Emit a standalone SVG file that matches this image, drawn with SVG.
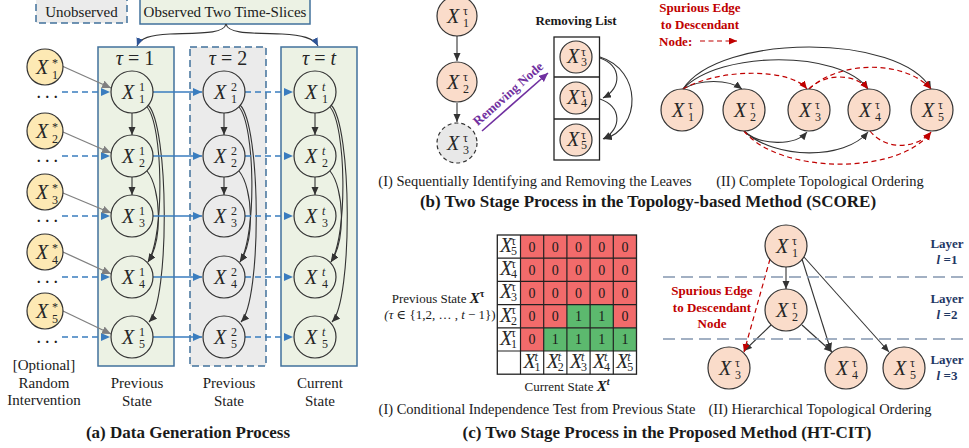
<svg xmlns="http://www.w3.org/2000/svg" width="969" height="448" viewBox="0 0 969 448">
<defs>
<style>
.bg{fill:#ecf2e4;stroke:#41719c;stroke-width:1.5}
.bd{fill:#ebebeb;stroke:#41719c;stroke-width:1.5;stroke-dasharray:7 4}
.nA{fill:#ecf2e4;stroke:#333;stroke-width:1.2}
.nB{fill:#ebebeb;stroke:#333;stroke-width:1.2}
.np{fill:#fadcca;stroke:#333;stroke-width:1.2}
.ny{fill:#fde9b4;stroke:#333;stroke-width:1.2}
.nx{fill:#e8e8e8;stroke:#333;stroke-width:1.2;stroke-dasharray:4 3}
.mx{font-family:"Liberation Serif","DejaVu Serif",serif;font-style:italic;font-size:20px;fill:#262626}
.ms{font-style:normal;font-size:12px}
.mi{font-style:italic;font-size:12px}
.t{font-family:"Liberation Serif","DejaVu Serif",serif;fill:#1a1a1a}
.cap{font-weight:bold;font-size:17px}
.e{fill:none;stroke:#333;stroke-width:1.1}
.eb{fill:none;stroke:#3a7dbf;stroke-width:1.4}
.ebd{fill:none;stroke:#3a7dbf;stroke-width:1.4;stroke-dasharray:6 4}
.eg{fill:none;stroke:#808080;stroke-width:1.3}
.er{fill:none;stroke:#c00000;stroke-width:1.2;stroke-dasharray:5 3.5}
.red{fill:#c00000;font-weight:bold;font-size:13px}
.lay{fill:#1f3864;font-weight:bold;font-size:13px}
.cr{fill:#f26b6b}
.cg{fill:#5cb96e}
.z{font-size:14px;text-anchor:middle}
</style>
<marker id="mk" markerUnits="userSpaceOnUse" markerWidth="9" markerHeight="8" refX="8" refY="3.5" orient="auto"><path d="M0,0 L8,3.5 L0,7 z" fill="#333"/></marker>
<marker id="mb" markerUnits="userSpaceOnUse" markerWidth="10" markerHeight="9" refX="9" refY="4" orient="auto"><path d="M0,0 L9,4 L0,8 z" fill="#3a7dbf"/></marker>
<marker id="mg" markerUnits="userSpaceOnUse" markerWidth="10" markerHeight="9" refX="9" refY="4" orient="auto"><path d="M0,0 L9,4 L0,8 z" fill="#808080"/></marker>
<marker id="mr" markerUnits="userSpaceOnUse" markerWidth="9" markerHeight="8" refX="8" refY="3.5" orient="auto"><path d="M0,0 L8,3.5 L0,7 z" fill="#c00000"/></marker>
<marker id="mp" markerUnits="userSpaceOnUse" markerWidth="10" markerHeight="9" refX="9" refY="4" orient="auto"><path d="M0,0 L9,4 L0,8 z" fill="#7030a0"/></marker>
<marker id="mn" markerUnits="userSpaceOnUse" markerWidth="9" markerHeight="8" refX="8" refY="3.5" orient="auto"><path d="M0,0 L8,3.5 L0,7 z" fill="#2f5597"/></marker>
</defs>
<rect width="969" height="448" fill="#fff"/>

<g id="legend-a">
<rect x="36" y="-3" width="91" height="26" class="bd" fill="#eeeeee"/>
<text class="t" x="81.5" y="17" font-size="15" text-anchor="middle">Unobserved</text>
<rect x="140" y="-3" width="170" height="27" class="bg"/>
<text class="t" x="225" y="17" font-size="15" text-anchor="middle">Observed Two Time-Slices</text>
</g>

<g id="col1"><rect x="98" y="47" width="76" height="319" class="bg"/>
<text class="mx" x="135" y="65" text-anchor="middle" font-size="21">τ<tspan font-style="normal"> = 1</tspan></text></g>
<g id="col2"><rect x="190" y="47" width="76" height="319" class="bd"/>
<text class="mx" x="228" y="65" text-anchor="middle" font-size="21">τ<tspan font-style="normal"> = 2</tspan></text></g>
<g id="col3"><rect x="281" y="47" width="76" height="319" class="bg"/>
<text class="mx" x="319" y="65" text-anchor="middle" font-size="21">τ<tspan font-style="normal"> = </tspan>t</text></g>

<g id="connectors">
<path class="e" stroke="#2f5597" stroke-width="1.3" d="M226,24 C224,34 200,33 170,34 C150,35 140,38 137,46" marker-end="url(#mn)"/>
<path class="e" stroke="#2f5597" stroke-width="1.3" d="M226,24 C228,34 252,33 282,34 C302,35 314,38 318,46" marker-end="url(#mn)"/>

<g id="col-edges">
<path class="e" d="M132,113 L132,135" marker-end="url(#mk)"/>
<path class="e" d="M132,177 L132,195" marker-end="url(#mk)"/>
<path class="e" d="M147,107 C163,125 165,235 148,262" marker-end="url(#mk)"/>
<path class="e" d="M148,105 C169,125 170,300 149,322" marker-end="url(#mk)"/>
<path class="e" d="M147,171 C161,188 163,240 148,262" marker-end="url(#mk)"/>

<path class="e" d="M224,113 L224,135" marker-end="url(#mk)"/>
<path class="e" d="M224,177 L224,195" marker-end="url(#mk)"/>
<path class="e" d="M239,107 C255,125 257,235 240,262" marker-end="url(#mk)"/>
<path class="e" d="M240,105 C261,125 262,300 241,322" marker-end="url(#mk)"/>
<path class="e" d="M239,171 C253,188 255,240 240,262" marker-end="url(#mk)"/>

<path class="e" d="M315,113 L315,135" marker-end="url(#mk)"/>
<path class="e" d="M315,177 L315,195" marker-end="url(#mk)"/>
<path class="e" d="M330,107 C346,125 348,235 331,262" marker-end="url(#mk)"/>
<path class="e" d="M331,105 C352,125 353,300 332,322" marker-end="url(#mk)"/>
<path class="e" d="M330,171 C344,188 346,240 331,262" marker-end="url(#mk)"/>
</g>

<g id="time-edges">
<path class="ebd" d="M62,92 L110,92" marker-end="url(#mb)"/>
<path class="ebd" d="M62,156 L110,156" marker-end="url(#mb)"/>
<path class="ebd" d="M62,216 L110,216" marker-end="url(#mb)"/>
<path class="ebd" d="M62,277 L110,277" marker-end="url(#mb)"/>
<path class="ebd" d="M62,337 L110,337" marker-end="url(#mb)"/>
<path class="eb" d="M153,92 L202,92" marker-end="url(#mb)"/>
<path class="eb" d="M153,156 L202,156" marker-end="url(#mb)"/>
<path class="eb" d="M153,216 L202,216" marker-end="url(#mb)"/>
<path class="eb" d="M153,277 L202,277" marker-end="url(#mb)"/>
<path class="eb" d="M153,337 L202,337" marker-end="url(#mb)"/>
<path class="ebd" d="M245,92 L293,92" marker-end="url(#mb)"/>
<path class="ebd" d="M245,156 L293,156" marker-end="url(#mb)"/>
<path class="ebd" d="M245,216 L293,216" marker-end="url(#mb)"/>
<path class="ebd" d="M245,277 L293,277" marker-end="url(#mb)"/>
<path class="ebd" d="M245,337 L293,337" marker-end="url(#mb)"/>
<path class="eg" d="M62,66 L111,88" marker-end="url(#mg)"/>
<path class="eg" d="M63,132 L111,153" marker-end="url(#mg)"/>
<path class="eg" d="M63,193 L111,213" marker-end="url(#mg)"/>
<path class="eg" d="M63,252 L111,274" marker-end="url(#mg)"/>
<path class="eg" d="M63,311 L111,334" marker-end="url(#mg)"/>
</g>

<path class="e" d="M457,36 L457,61" marker-end="url(#mk)"/>
<path class="e" d="M457,103 L457,122" marker-end="url(#mk)"/>
<path fill="none" stroke="#7030a0" stroke-width="1.6" d="M482,131 L548,73" marker-end="url(#mp)"/>
<path class="e" d="M600,58 C622,66 622,88 603,98" marker-end="url(#mk)"/>
<path class="e" d="M600,99 C622,107 622,129 603,139" marker-end="url(#mk)"/>
<path class="e" d="M600,57 C642,70 642,128 604,139" marker-end="url(#mk)"/>

<path class="e" d="M683,89 C700,79 728,79 742,89" marker-end="url(#mk)"/>
<path class="e" d="M683,89 C720,50 840,50 868,89" marker-end="url(#mk)"/>
<path class="e" d="M683,89 C720,33 900,33 931,89" marker-end="url(#mk)"/>
<path class="er" d="M683,89 C720,68 790,68 807,89" marker-end="url(#mr)"/>
<path class="er" d="M809,89 C825,73 855,73 868,89" marker-end="url(#mr)"/>
<path class="er" d="M809,89 C840,60 905,60 931,89" marker-end="url(#mr)"/>
<path class="e" d="M744,131 C760,146 795,146 807,132" marker-end="url(#mk)"/>
<path class="e" d="M744,131 C775,160 845,160 868,132" marker-end="url(#mk)"/>
<path class="er" d="M744,131 C780,175 900,175 931,132" marker-end="url(#mr)"/>
<path class="er" d="M870,131 C885,150 915,150 931,132" marker-end="url(#mr)"/>
<path class="er" d="M700,41 L737,41" marker-end="url(#mr)"/>

<path class="e" d="M786,267 L786,289" marker-end="url(#mk)"/>
<path class="e" d="M802,259 L831,351" marker-end="url(#mk)"/>
<path class="e" d="M804,257 L889,352" marker-end="url(#mk)"/>
<path class="e" d="M771,325 L744,351" marker-end="url(#mk)"/>
<path class="e" d="M802,325 L832,352" marker-end="url(#mk)"/>
<path class="er" d="M770,259 L744,352" marker-end="url(#mr)"/>
</g>

<g id="xs1"><circle cx="45" cy="67" r="18" class="ny"/><text class="mx" x="36" y="74" font-size="19">X<tspan class="ms" x="52" y="67">*</tspan><tspan class="ms" x="52" y="79">1</tspan></text></g>
<g id="xs2"><circle cx="45" cy="131" r="18" class="ny"/><text class="mx" x="36" y="138" font-size="19">X<tspan class="ms" x="52" y="131">*</tspan><tspan class="ms" x="52" y="143">2</tspan></text></g>
<g id="xs3"><circle cx="45" cy="192" r="18" class="ny"/><text class="mx" x="36" y="199" font-size="19">X<tspan class="ms" x="52" y="192">*</tspan><tspan class="ms" x="52" y="204">3</tspan></text></g>
<g id="xs4"><circle cx="45" cy="252" r="18" class="ny"/><text class="mx" x="36" y="259" font-size="19">X<tspan class="ms" x="52" y="252">*</tspan><tspan class="ms" x="52" y="264">4</tspan></text></g>
<g id="xs5"><circle cx="45" cy="311" r="18" class="ny"/><text class="mx" x="36" y="318" font-size="19">X<tspan class="ms" x="52" y="311">*</tspan><tspan class="ms" x="52" y="323">5</tspan></text></g>
<g id="dots" class="t" font-size="14" font-weight="bold" letter-spacing="5">
<text x="37" y="98">...</text><text x="37" y="162">...</text><text x="37" y="222">...</text><text x="37" y="283">...</text><text x="37" y="343">...</text>
</g>

<g id="n1-1"><circle cx="132" cy="92" r="21" class="nA"/><text class="mx" x="122" y="99">X<tspan class="ms" x="139" y="91">1</tspan><tspan class="ms" x="139" y="103">1</tspan></text></g>
<g id="n1-2"><circle cx="132" cy="156" r="21" class="nA"/><text class="mx" x="122" y="163">X<tspan class="ms" x="139" y="155">1</tspan><tspan class="ms" x="139" y="167">2</tspan></text></g>
<g id="n1-3"><circle cx="132" cy="216" r="21" class="nA"/><text class="mx" x="122" y="223">X<tspan class="ms" x="139" y="215">1</tspan><tspan class="ms" x="139" y="227">3</tspan></text></g>
<g id="n1-4"><circle cx="132" cy="277" r="21" class="nA"/><text class="mx" x="122" y="284">X<tspan class="ms" x="139" y="276">1</tspan><tspan class="ms" x="139" y="288">4</tspan></text></g>
<g id="n1-5"><circle cx="132" cy="337" r="21" class="nA"/><text class="mx" x="122" y="344">X<tspan class="ms" x="139" y="336">1</tspan><tspan class="ms" x="139" y="348">5</tspan></text></g>

<g id="n2-1"><circle cx="224" cy="92" r="21" class="nB"/><text class="mx" x="214" y="99">X<tspan class="ms" x="231" y="91">2</tspan><tspan class="ms" x="231" y="103">1</tspan></text></g>
<g id="n2-2"><circle cx="224" cy="156" r="21" class="nB"/><text class="mx" x="214" y="163">X<tspan class="ms" x="231" y="155">2</tspan><tspan class="ms" x="231" y="167">2</tspan></text></g>
<g id="n2-3"><circle cx="224" cy="216" r="21" class="nB"/><text class="mx" x="214" y="223">X<tspan class="ms" x="231" y="215">2</tspan><tspan class="ms" x="231" y="227">3</tspan></text></g>
<g id="n2-4"><circle cx="224" cy="277" r="21" class="nB"/><text class="mx" x="214" y="284">X<tspan class="ms" x="231" y="276">2</tspan><tspan class="ms" x="231" y="288">4</tspan></text></g>
<g id="n2-5"><circle cx="224" cy="337" r="21" class="nB"/><text class="mx" x="214" y="344">X<tspan class="ms" x="231" y="336">2</tspan><tspan class="ms" x="231" y="348">5</tspan></text></g>

<g id="n3-1"><circle cx="315" cy="92" r="21" class="nA"/><text class="mx" x="305" y="99">X<tspan class="mi" x="322" y="91">t</tspan><tspan class="ms" x="322" y="103">1</tspan></text></g>
<g id="n3-2"><circle cx="315" cy="156" r="21" class="nA"/><text class="mx" x="305" y="163">X<tspan class="mi" x="322" y="155">t</tspan><tspan class="ms" x="322" y="167">2</tspan></text></g>
<g id="n3-3"><circle cx="315" cy="216" r="21" class="nA"/><text class="mx" x="305" y="223">X<tspan class="mi" x="322" y="215">t</tspan><tspan class="ms" x="322" y="227">3</tspan></text></g>
<g id="n3-4"><circle cx="315" cy="277" r="21" class="nA"/><text class="mx" x="305" y="284">X<tspan class="mi" x="322" y="276">t</tspan><tspan class="ms" x="322" y="288">4</tspan></text></g>
<g id="n3-5"><circle cx="315" cy="337" r="21" class="nA"/><text class="mx" x="305" y="344">X<tspan class="mi" x="322" y="336">t</tspan><tspan class="ms" x="322" y="348">5</tspan></text></g>

<g id="labels-a" class="t" font-size="15" text-anchor="middle">
<text x="44" y="370">[Optional]</text><text x="44" y="388">Random</text><text x="44" y="405">Intervention</text>
<text x="137" y="388">Previous</text><text x="137" y="406">State</text>
<text x="229" y="388">Previous</text><text x="229" y="406">State</text>
<text x="320" y="388">Current</text><text x="320" y="406">State</text>
<text class="cap" x="188" y="438">(a) Data Generation Process</text>
</g>

<g id="b-x1"><circle cx="457" cy="16" r="20" class="np"/><text class="mx" x="447" y="23">X<tspan class="ms" x="463" y="15">τ</tspan><tspan class="ms" x="463" y="27">1</tspan></text></g>
<g id="b-x2"><circle cx="457" cy="82" r="20" class="np"/><text class="mx" x="447" y="89">X<tspan class="ms" x="463" y="81">τ</tspan><tspan class="ms" x="463" y="93">2</tspan></text></g>
<g id="b-x3"><circle cx="457" cy="143" r="20" class="nx"/><text class="mx" x="447" y="150">X<tspan class="ms" x="463" y="142">τ</tspan><tspan class="ms" x="463" y="154">3</tspan></text></g>
<text class="t" x="511" y="97" font-size="13" font-weight="bold" text-anchor="middle" transform="rotate(-41.5 511 97)" style="fill:#7030a0">Removing Node</text>

<g id="removing-list">
<text class="t" x="576" y="25" font-size="13" font-weight="bold" text-anchor="middle">Removing List</text>
<rect x="554" y="37" width="45.5" height="123" fill="#fff" stroke="#222" stroke-width="1.3"/>
<line x1="554" y1="77" x2="599.5" y2="77" stroke="#222" stroke-width="1.3"/>
<line x1="554" y1="119" x2="599.5" y2="119" stroke="#222" stroke-width="1.3"/>
</g>
<g id="l-x3"><circle cx="576" cy="57" r="16" class="np"/><text class="mx" x="567" y="63" font-size="17">X<tspan class="ms" font-size="10" x="581" y="56">τ</tspan><tspan class="ms" font-size="10" x="581" y="66">3</tspan></text></g>
<g id="l-x4"><circle cx="576" cy="98" r="16" class="np"/><text class="mx" x="567" y="104" font-size="17">X<tspan class="ms" font-size="10" x="581" y="97">τ</tspan><tspan class="ms" font-size="10" x="581" y="107">4</tspan></text></g>
<g id="l-x5"><circle cx="576" cy="140" r="16" class="np"/><text class="mx" x="567" y="146" font-size="17">X<tspan class="ms" font-size="10" x="581" y="139">τ</tspan><tspan class="ms" font-size="10" x="581" y="149">5</tspan></text></g>

<g id="b-legend" class="t">
<text class="red" x="700" y="12" text-anchor="middle">Spurious Edge</text>
<text class="red" x="700" y="29" text-anchor="middle">to Descendant</text>
<text class="red" x="659" y="46">Node:</text>
</g>
<g id="o-x1"><circle cx="682" cy="110" r="21" class="np"/><text class="mx" x="672" y="117">X<tspan class="ms" x="688" y="109">τ</tspan><tspan class="ms" x="688" y="121">1</tspan></text></g>
<g id="o-x2"><circle cx="744" cy="110" r="21" class="np"/><text class="mx" x="734" y="117">X<tspan class="ms" x="750" y="109">τ</tspan><tspan class="ms" x="750" y="121">2</tspan></text></g>
<g id="o-x3"><circle cx="809" cy="110" r="21" class="np"/><text class="mx" x="799" y="117">X<tspan class="ms" x="815" y="109">τ</tspan><tspan class="ms" x="815" y="121">3</tspan></text></g>
<g id="o-x4"><circle cx="869" cy="110" r="21" class="np"/><text class="mx" x="859" y="117">X<tspan class="ms" x="875" y="109">τ</tspan><tspan class="ms" x="875" y="121">4</tspan></text></g>
<g id="o-x5"><circle cx="932" cy="110" r="21" class="np"/><text class="mx" x="922" y="117">X<tspan class="ms" x="938" y="109">τ</tspan><tspan class="ms" x="938" y="121">5</tspan></text></g>

<g id="captions-b" class="t" text-anchor="middle">
<text x="535" y="186" font-size="14.5">(I) Sequentially Identifying and Removing the Leaves</text>
<text x="820" y="186" font-size="14.5">(II) Complete Topological Ordering</text>
<text class="cap" x="648" y="207">(b) Two Stage Process in the Topology-based Method (SCORE)</text>
</g>

<g id="matrix">
<rect x="520.5" y="235" width="116" height="92.8" class="cr"/>
<rect x="520.5" y="327.8" width="23.2" height="23.2" class="cr"/>
<rect x="543.7" y="327.8" width="92.8" height="23.2" class="cg"/>
<rect x="567" y="304.6" width="46.4" height="23.2" class="cg"/>
<rect x="497.3" y="235" width="139.2" height="139.2" fill="none" stroke="#222" stroke-width="1.3"/>
<g stroke="#222" stroke-width="1.2">
<line x1="520.5" y1="235" x2="520.5" y2="374.2"/><line x1="543.7" y1="235" x2="543.7" y2="374.2"/><line x1="566.9" y1="235" x2="566.9" y2="374.2"/><line x1="590.1" y1="235" x2="590.1" y2="374.2"/><line x1="613.3" y1="235" x2="613.3" y2="374.2"/>
<line x1="497.3" y1="258.2" x2="636.5" y2="258.2"/><line x1="497.3" y1="281.4" x2="636.5" y2="281.4"/><line x1="497.3" y1="304.6" x2="636.5" y2="304.6"/><line x1="497.3" y1="327.8" x2="636.5" y2="327.8"/><line x1="497.3" y1="351" x2="636.5" y2="351"/>
</g>
<g class="t z">
<text x="532.1" y="251.5">0</text><text x="555.3" y="251.5">0</text><text x="578.5" y="251.5">0</text><text x="601.7" y="251.5">0</text><text x="624.9" y="251.5">0</text>
<text x="532.1" y="274.7">0</text><text x="555.3" y="274.7">0</text><text x="578.5" y="274.7">0</text><text x="601.7" y="274.7">0</text><text x="624.9" y="274.7">0</text>
<text x="532.1" y="297.9">0</text><text x="555.3" y="297.9">0</text><text x="578.5" y="297.9">0</text><text x="601.7" y="297.9">0</text><text x="624.9" y="297.9">0</text>
<text x="532.1" y="321.1">0</text><text x="555.3" y="321.1">0</text><text x="578.5" y="321.1">1</text><text x="601.7" y="321.1">1</text><text x="624.9" y="321.1">0</text>
<text x="532.1" y="344.3">0</text><text x="555.3" y="344.3">1</text><text x="578.5" y="344.3">1</text><text x="601.7" y="344.3">1</text><text x="624.9" y="344.3">1</text>
</g>
<g class="mx" font-size="14">
<text x="500" y="252">X<tspan class="ms" font-size="9" x="511" y="244.5">τ</tspan><tspan class="ms" font-size="9" x="511" y="255">5</tspan></text>
<text x="500" y="275.2">X<tspan class="ms" font-size="9" x="511" y="267.7">τ</tspan><tspan class="ms" font-size="9" x="511" y="278.2">4</tspan></text>
<text x="500" y="298.4">X<tspan class="ms" font-size="9" x="511" y="290.9">τ</tspan><tspan class="ms" font-size="9" x="511" y="301.4">3</tspan></text>
<text x="500" y="321.6">X<tspan class="ms" font-size="9" x="511" y="314.1">τ</tspan><tspan class="ms" font-size="9" x="511" y="324.6">2</tspan></text>
<text x="500" y="344.8">X<tspan class="ms" font-size="9" x="511" y="337.3">τ</tspan><tspan class="ms" font-size="9" x="511" y="347.8">1</tspan></text>
<text x="523.5" y="368">X<tspan class="mi" font-size="9" x="534.5" y="360.5">t</tspan><tspan class="ms" font-size="9" x="534.5" y="371">1</tspan></text>
<text x="546.7" y="368">X<tspan class="mi" font-size="9" x="557.7" y="360.5">t</tspan><tspan class="ms" font-size="9" x="557.7" y="371">2</tspan></text>
<text x="569.9" y="368">X<tspan class="mi" font-size="9" x="580.9" y="360.5">t</tspan><tspan class="ms" font-size="9" x="580.9" y="371">3</tspan></text>
<text x="593.1" y="368">X<tspan class="mi" font-size="9" x="604.1" y="360.5">t</tspan><tspan class="ms" font-size="9" x="604.1" y="371">4</tspan></text>
<text x="616.3" y="368">X<tspan class="mi" font-size="9" x="627.3" y="360.5">t</tspan><tspan class="ms" font-size="9" x="627.3" y="371">5</tspan></text>
</g>
</g>
<g id="matrix-labels" class="t" font-size="13" text-anchor="middle">
<text x="438" y="303">Previous State <tspan font-weight="bold" font-style="italic" font-size="15">X</tspan><tspan font-weight="bold" font-size="10" dy="-6">τ</tspan></text>
<text x="440" y="319"><tspan font-style="italic">(τ</tspan> ∈ {1,2, … , <tspan font-style="italic">t</tspan> − 1})</text>
<text x="567" y="391">Current State <tspan font-weight="bold" font-style="italic" font-size="15">X</tspan><tspan font-weight="bold" font-style="italic" font-size="10" dy="-6">t</tspan></text>
</g>

<g id="layers">
<line x1="663" y1="277" x2="969" y2="277" stroke="#8497b0" stroke-width="1.6" stroke-dasharray="12 6"/>
<line x1="663" y1="339" x2="969" y2="339" stroke="#8497b0" stroke-width="1.6" stroke-dasharray="12 6"/>
<g class="t lay" text-anchor="middle">
<text x="947" y="248">Layer</text><text x="947" y="264"><tspan font-style="italic">l</tspan> =1</text>
<text x="947" y="303">Layer</text><text x="947" y="319"><tspan font-style="italic">l</tspan> =2</text>
<text x="947" y="364">Layer</text><text x="947" y="380"><tspan font-style="italic">l</tspan> =3</text>
</g>
</g>
<g id="c-legend" class="t" text-anchor="middle">
<text class="red" x="712" y="295">Spurious Edge</text>
<text class="red" x="712" y="312">to Descendant</text>
<text class="red" x="712" y="328">Node</text>
</g>
<g id="h-x1"><circle cx="786" cy="246" r="21" class="np"/><text class="mx" x="776" y="253">X<tspan class="ms" x="792" y="245">τ</tspan><tspan class="ms" x="792" y="257">1</tspan></text></g>
<g id="h-x2"><circle cx="786" cy="310" r="21" class="np"/><text class="mx" x="776" y="317">X<tspan class="ms" x="792" y="309">τ</tspan><tspan class="ms" x="792" y="321">2</tspan></text></g>
<g id="h-x3"><circle cx="729" cy="368" r="21" class="np"/><text class="mx" x="719" y="375">X<tspan class="ms" x="735" y="367">τ</tspan><tspan class="ms" x="735" y="379">3</tspan></text></g>
<g id="h-x4"><circle cx="846" cy="368" r="21" class="np"/><text class="mx" x="836" y="375">X<tspan class="ms" x="852" y="367">τ</tspan><tspan class="ms" x="852" y="379">4</tspan></text></g>
<g id="h-x5"><circle cx="904" cy="368" r="21" class="np"/><text class="mx" x="894" y="375">X<tspan class="ms" x="910" y="367">τ</tspan><tspan class="ms" x="910" y="379">5</tspan></text></g>

<g id="captions-c" class="t" text-anchor="middle">
<text x="537" y="414" font-size="14.5">(I) Conditional Independence Test from Previous State</text>
<text x="820" y="414" font-size="14.5">(II) Hierarchical Topological Ordering</text>
<text class="cap" x="667" y="438">(c) Two Stage Process in the Proposed Method (HT-CIT)</text>
</g>
</svg>
